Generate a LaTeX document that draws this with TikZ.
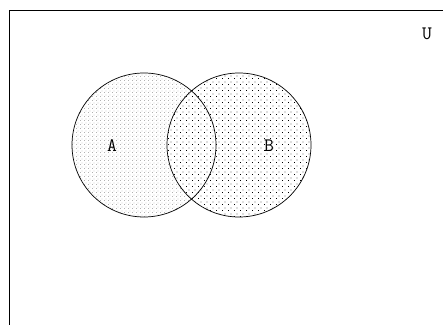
\documentclass[tikz,border=0pt]{standalone}
\usetikzlibrary{patterns}
\pgfdeclarepatternformonly{bdots}{\pgfpointorigin}{\pgfpoint{6pt}{6pt}}{\pgfpoint{6pt}{6pt}}{%
  \pgfpathrectangle{\pgfpoint{0pt}{0pt}}{\pgfpoint{0.9pt}{0.9pt}}%
  \pgfpathrectangle{\pgfpoint{3pt}{3pt}}{\pgfpoint{0.9pt}{0.9pt}}%
  \pgfusepath{fill}}
\pgfdeclarepatternformonly{adots}{\pgfpointorigin}{\pgfpoint{4pt}{4pt}}{\pgfpoint{4pt}{4pt}}{%
  \pgfpathrectangle{\pgfpoint{0pt}{0pt}}{\pgfpoint{1pt}{1pt}}%
  \pgfpathrectangle{\pgfpoint{2pt}{2pt}}{\pgfpoint{1pt}{1pt}}%
  \pgfusepath{fill}}
\begin{document}
\begin{tikzpicture}[x=1pt,y=-1pt,
  lbl/.style={font=\ttfamily\fontsize{19}{19}\selectfont, inner sep=0pt},
  setline/.style={draw=black, line width=0.7pt}]
\clip (0,0) rectangle (443,324);
\fill[white] (0,0) rectangle (443,324);
\draw[setline, line width=0.9pt] (9,10) rectangle (470,350);
\fill[pattern=adots, pattern color=gray!60] (144,145) circle (72);
\fill[white] (239,145) circle (72);
\fill[pattern=bdots, pattern color=black] (239,145) circle (72);
\draw[setline] (144,145) circle (72);
\draw[setline] (239,145) circle (72);
\node[lbl] (a) at (112,146) {A};
\node[lbl] (b) at (269,146) {B};
\node[lbl] (u) at (427,34) {U};
\end{tikzpicture}
\end{document}
